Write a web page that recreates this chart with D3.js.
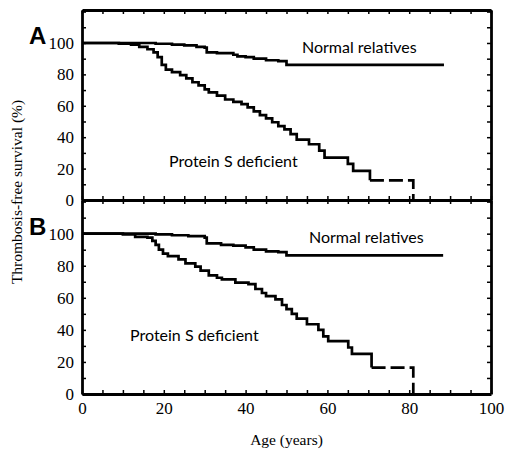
<!DOCTYPE html>
<html>
<head>
<meta charset="utf-8">
<script src="https://cdn.jsdelivr.net/npm/d3@7"></script>
<style>
  body { margin: 0; background: #fff; }
  .tick line { stroke: #000; stroke-width: 1.5; }
  .domain { stroke: #000; stroke-width: 2.8; }
  .ylab text, .xlab text { font-family: "Liberation Serif", serif; font-size: 17px; fill: #000; }
  .note { font-family: Lato, sans-serif; font-size: 16px; fill: #000; }
</style>
</head>
<body>
<div id="chart"></div>
<script>
// Kaplan-Meier steps: [age, survival %] (value holds until next age)
const normalA = [[0,100],[15,100],[18,99.5],[22,99],[25,98.5],[28,97.5],[30,97],[30.5,94],[33,93.5],[37,92.5],[38,91.5],[40,91],[42,90],[45,89],[48,88.5],[50,86],[88.5,86]];
const deficientA = [[0,100],[9,99.5],[12,99],[14,97.5],[16,96],[17.5,94],[18.5,91],[19.5,86],[20.5,83],[22,81.5],[24,79.5],[25.5,77.5],[27,75],[28.5,73],[30,70.5],[31,68.5],[33,66.5],[35,64],[37,62.5],[39,61],[40.5,59],[42,56.5],[43.5,54],[45,52],[46.5,49.5],[48,47],[49.5,45],[51,42],[52.5,38.5],[55.5,35.5],[58,31.5],[59.3,27],[65,23],[66.3,18.5],[70.4,12.5]];
const tailA = [[70.4,12.5],[81,12.5],[81,0]];

const normalB = [[0,100],[15,100],[18,99.5],[22,99],[26,98.5],[30,97.5],[30.5,94],[34,93],[37,92.5],[40,91.5],[42,90],[45,89],[48,88.5],[50,86.5],[88.3,86.5]];
const deficientB = [[0,100],[10,99.5],[13,98],[16,97.5],[17.2,95.5],[18,93],[18.8,90],[19.8,87.5],[21,86],[23.6,84],[25.3,81.5],[27.7,79.5],[29,77],[31,74],[33,72.5],[34.2,71.5],[37.5,69.5],[40.7,68.5],[42.4,65.5],[44,63],[45,61],[47.3,59],[48.9,55.5],[50,53],[51.3,50],[52.5,47],[55,43.5],[57.8,40],[59,36],[60.2,33],[65.1,29],[66,25],[70.8,16.5]];
const tailB = [[70.8,16.5],[81,16.5],[81,0]];

const yTicks = [0, 20, 40, 60, 80, 100];
const xTicks = [0, 20, 40, 60, 80, 100];

const width = 515, height = 453;
const svg = d3.select("#chart").append("svg")
  .attr("width", width)
  .attr("height", height);

const x = d3.scaleLinear().domain([0, 100]).range([82, 491]);
const yA = d3.scaleLinear().domain([0, 121]).range([200, 10]);
const yB = d3.scaleLinear().domain([0, 121]).range([394, 200]);

function drawPanel(y, normal, deficient, tail, letter, normalPos, defPos, showX) {
  const minorY = d3.range(0, 121, 10);
  const minorX = d3.range(0, 101, 5);

  svg.append("g").attr("class", "ylab")
    .attr("transform", "translate(82,0)")
    .call(d3.axisLeft(y).tickValues(minorY).tickSizeInner(-4).tickSizeOuter(0).tickPadding(8)
      .tickFormat(d => yTicks.includes(d) ? d : ""));
  svg.append("g")
    .attr("transform", "translate(491,0)")
    .call(d3.axisRight(y).tickValues(minorY).tickSizeInner(-4).tickSizeOuter(0).tickFormat(""));
  svg.append("g")
    .attr("transform", `translate(0,${y.range()[1]})`)
    .call(d3.axisTop(x).tickValues(minorX).tickSizeInner(-4).tickSizeOuter(0).tickFormat(""));
  svg.append("g").attr("class", "xlab")
    .attr("transform", `translate(0,${y.range()[0]})`)
    .call(d3.axisBottom(x).tickValues(minorX).tickSizeInner(-4).tickSizeOuter(0).tickPadding(8)
      .tickFormat(d => showX && xTicks.includes(d) ? d : ""));

  const line = d3.line().x(d => x(d[0])).y(d => y(d[1])).curve(d3.curveStepAfter);
  [normal, deficient].forEach(s => {
    svg.append("path").attr("d", line(s))
      .attr("fill", "none").attr("stroke", "#000").attr("stroke-width", 2.7);
  });
  svg.append("path").attr("d", d3.line().x(d => x(d[0])).y(d => y(d[1]))(tail))
    .attr("fill", "none").attr("stroke", "#000").attr("stroke-width", 2.7)
    .attr("stroke-dasharray", "14,5");

  svg.append("text").attr("x", 29).attr("y", y(100) + 1)
    .attr("font-family", "Liberation Sans, Arial, sans-serif")
    .attr("font-weight", "bold").attr("font-size", 24)
    .attr("fill", "#000")
    .text(letter);

  svg.append("text").attr("class", "note")
    .attr("x", normalPos[0]).attr("y", normalPos[1]).text("Normal relatives");
  svg.append("text").attr("class", "note")
    .attr("x", defPos[0]).attr("y", defPos[1]).text("Protein S deficient");
}

drawPanel(yA, normalA, deficientA, tailA, "A", [302, 53], [169, 167], false);
drawPanel(yB, normalB, deficientB, tailB, "B", [309, 243], [130, 341], true);

svg.append("text")
  .attr("transform", "translate(22,192) rotate(-90)")
  .attr("text-anchor", "middle")
  .attr("font-family", "Liberation Serif, serif")
  .attr("font-size", 15.5)
  .attr("fill", "#000")
  .text("Thrombosis-free survival (%)");

svg.append("text")
  .attr("x", x(50)).attr("y", 445)
  .attr("text-anchor", "middle")
  .attr("font-family", "Liberation Serif, serif")
  .attr("font-size", 15.5)
  .attr("fill", "#000")
  .text("Age (years)");
</script>
</body>
</html>
